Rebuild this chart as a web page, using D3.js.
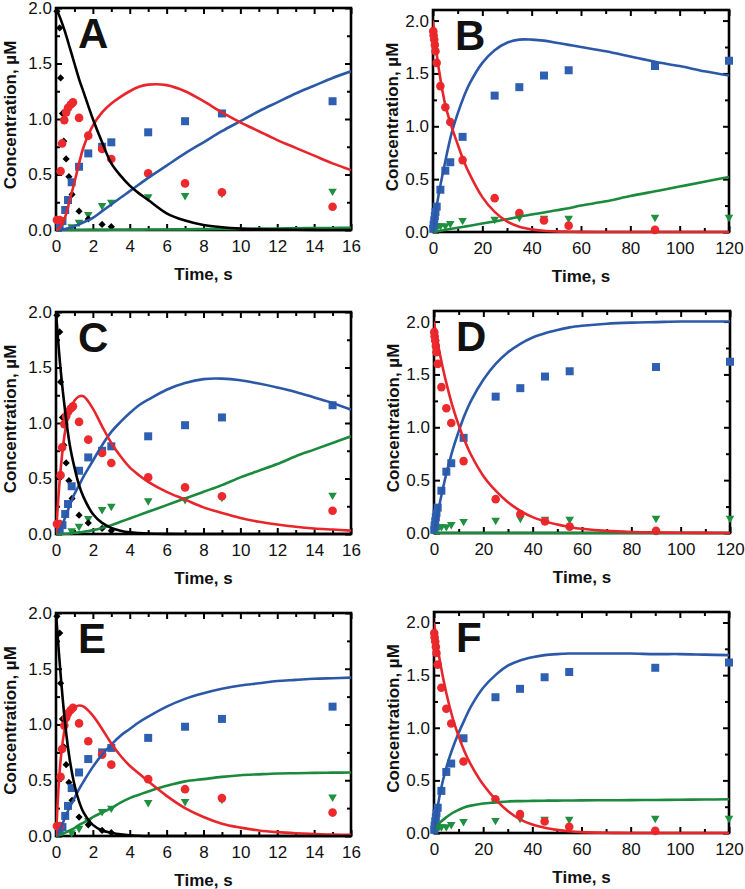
<!DOCTYPE html>
<html><head><meta charset="utf-8">
<script src="https://cdn.jsdelivr.net/npm/d3@7"></script>
<style>
body{margin:0;background:#fff}
svg{display:block}
text{font-family:"Liberation Sans",Arial,Helvetica,sans-serif;fill:#111}
</style>
</head><body>
<svg id="chart" width="745" height="889"></svg>
<script>
// ---------------- Experimental data, 0–16 s experiment (panels A, C, E) ----------------
const shortBlackT = [0.05,0.2,0.25,0.35,0.42,0.55,0.7,0.87,1.25,1.75,2.5,3];
const shortBlackC = [1.97,1.82,1.37,1.05,0.80,0.64,0.48,0.32,0.17,0.10,0.05,0.03];
const shortRedT   = [0.05,0.2,0.25,0.33,0.45,0.55,0.65,0.8,0.92,1.25,1.75,2.5,3,5,7,9,15];
const shortRedC   = [0.09,0.09,0.53,0.78,0.99,1.06,1.10,1.13,1.15,1.01,0.85,0.73,0.64,0.51,0.42,0.34,0.21];
const shortBlueT  = [0.2,0.35,0.5,0.65,0.85,1.25,1.75,2.5,3,5,7,9,15];
const shortBlueC  = [0.04,0.08,0.18,0.27,0.43,0.57,0.69,0.75,0.79,0.88,0.98,1.05,1.16];
const shortGreenT = [0.85,1.25,1.75,2.5,3,5,7,9,15];
const shortGreenC = [0.03,0.07,0.14,0.22,0.25,0.30,0.31,0.33,0.35];

// ---------------- Experimental data, 0–120 s experiment (panels B, D, F) ----------------
const longRedT   = [0.1,0.25,0.5,0.75,1,1.5,3,5,7,12,25,35,45,55,90];
const longRedC   = [1.90,1.86,1.82,1.77,1.71,1.60,1.38,1.18,1.04,0.68,0.32,0.18,0.11,0.06,0.02];
const longBlueT  = [0.1,0.25,0.5,0.75,1,1.5,3,5,7,12,25,35,45,55,90,120];
const longBlueC  = [0.03,0.07,0.11,0.15,0.19,0.24,0.40,0.58,0.66,0.90,1.29,1.37,1.48,1.53,1.57,1.62];
const longGreenT = [1,2,3,5,7,12,25,35,45,55,90,120];
const longGreenC = [0.05,0.06,0.06,0.06,0.08,0.11,0.12,0.14,0.13,0.13,0.14,0.14];

// ---------------- Simulated curves ----------------
const shortGrid = [0,0.25,0.5,0.75,1,1.25,1.5,2,2.5,3,3.5,4,4.5,5,6,7,8,9,10,11,12,13,14,15,16];
const A_black = [2.0,1.9,1.78,1.64,1.5,1.36,1.24,1.0,0.79,0.6,0.49,0.40,0.33,0.27,0.15,0.085,0.045,0.025,0.013,0.007,0.004,0.002,0.001,0,0];
const A_red   = [0,0.03,0.12,0.27,0.43,0.6,0.75,0.94,1.06,1.14,1.2,1.25,1.29,1.31,1.305,1.25,1.16,1.06,0.97,0.89,0.81,0.74,0.67,0.6,0.54];
const A_blue  = [0,0.002,0.008,0.02,0.035,0.05,0.07,0.11,0.17,0.23,0.29,0.35,0.41,0.47,0.58,0.69,0.79,0.89,0.98,1.07,1.15,1.23,1.3,1.37,1.43];
const A_green = [0,0,0,0,0,0,0,0.001,0.001,0.002,0.002,0.003,0.003,0.004,0.005,0.006,0.008,0.009,0.011,0.012,0.014,0.015,0.017,0.018,0.02];
const C_black = [2.0,1.48,1.1,0.8,0.6,0.44,0.33,0.18,0.1,0.055,0.03,0.015,0.008,0.004,0.001,0,0,0,0,0,0,0,0,0,0];
const C_red   = [0,0.58,0.93,1.11,1.2,1.24,1.24,1.13,0.97,0.82,0.7,0.6,0.53,0.47,0.38,0.31,0.24,0.19,0.145,0.11,0.085,0.065,0.05,0.04,0.03];
const C_blue  = [0,0.05,0.15,0.26,0.36,0.44,0.52,0.66,0.8,0.92,1.01,1.09,1.16,1.21,1.3,1.36,1.395,1.4,1.385,1.355,1.32,1.28,1.23,1.18,1.12];
const C_green = [0,0,0.002,0.005,0.01,0.015,0.02,0.035,0.055,0.08,0.11,0.14,0.17,0.2,0.26,0.32,0.38,0.44,0.51,0.57,0.63,0.7,0.76,0.82,0.88];
const E_black = [2.0,1.45,1.0,0.68,0.46,0.31,0.21,0.1,0.05,0.03,0.015,0.006,0.002,0,0,0,0,0,0,0,0,0,0,0,0];
const E_red   = [0,0.68,0.98,1.1,1.15,1.17,1.16,1.08,0.96,0.83,0.72,0.63,0.56,0.49,0.36,0.25,0.17,0.11,0.075,0.05,0.035,0.025,0.018,0.013,0.01];
const E_blue  = [0,0.07,0.17,0.26,0.34,0.42,0.49,0.62,0.73,0.82,0.9,0.96,1.02,1.07,1.16,1.23,1.28,1.32,1.35,1.37,1.39,1.4,1.41,1.415,1.42];
const E_green = [0,0.01,0.03,0.05,0.07,0.1,0.12,0.17,0.21,0.25,0.3,0.34,0.37,0.4,0.45,0.49,0.51,0.53,0.545,0.553,0.56,0.563,0.566,0.568,0.57];

const longGrid = [0,1,2.5,5,7.5,10,12.5,15,20,25,30,35,40,45,50,55,60,70,80,90,100,110,120];
const B_red   = [2.0,1.78,1.52,1.2,1.0,0.83,0.67,0.54,0.33,0.19,0.1,0.05,0.025,0.012,0.006,0.003,0.001,0,0,0,0,0,0];
const B_blue  = [0,0.17,0.38,0.67,0.93,1.12,1.28,1.41,1.6,1.72,1.79,1.82,1.82,1.81,1.79,1.77,1.75,1.71,1.66,1.61,1.57,1.52,1.48];
const B_green = [0,0.004,0.01,0.02,0.03,0.04,0.05,0.06,0.08,0.1,0.12,0.145,0.165,0.185,0.205,0.225,0.25,0.29,0.34,0.385,0.43,0.475,0.52];
const D_red   = [2.0,1.86,1.68,1.42,1.2,1.02,0.87,0.74,0.54,0.4,0.29,0.21,0.15,0.11,0.08,0.055,0.04,0.02,0.01,0.005,0.002,0.001,0];
const D_blue  = [0,0.12,0.3,0.56,0.78,0.96,1.12,1.25,1.45,1.6,1.71,1.79,1.85,1.89,1.92,1.945,1.96,1.98,1.99,1.995,2.0,2.0,2.0];
const D_green = [0,0,0,0,0,0,0,0,0,0,0,0,0,0,0,0,0,0,0,0,0,0,0];
const F_red   = [2.0,1.84,1.62,1.33,1.1,0.92,0.77,0.65,0.46,0.32,0.21,0.13,0.08,0.05,0.03,0.016,0.008,0.002,0,0,0,0,0];
const F_blue  = [0,0.17,0.38,0.62,0.8,0.95,1.08,1.2,1.38,1.5,1.59,1.64,1.67,1.69,1.7,1.705,1.705,1.705,1.705,1.7,1.7,1.695,1.69];
const F_green = [0,0.05,0.1,0.15,0.19,0.22,0.245,0.26,0.28,0.29,0.3,0.303,0.305,0.307,0.308,0.309,0.31,0.311,0.312,0.314,0.316,0.318,0.32];

// ---------------- Axis ticks ----------------
const yTickLabels = [0,0.5,1.0,1.5,2.0];
const yTickMinor  = [0.25,0.75,1.25,1.75];
const shortXLabels = [0,2,4,6,8,10,12,14,16];
const shortXMinor  = [1,3,5,7,9,11,13,15];
const longXLabels  = [0,20,40,60,80,100,120];
const longXMinor   = [10,30,50,70,90,110];
const panelLetters = ["A","B","C","D","E","F"];

// ---------------- Colours ----------------
const COL = {black:"#000000", red:"#e8252b", blue:"#2c58a8", green:"#1b8a3c",
             redPt:"#ec2a2e", bluePt:"#2e5fb0", greenPt:"#1f8f40", blackPt:"#000000"};

// ---------------- Layout ----------------
const layout = [
  {l:56,  t:8,   r:351, b:230, yMax:2.0, titleX:10},
  {l:433, t:10,  r:729, b:232, yMax:2.1, titleX:392},
  {l:56,  t:312, r:351, b:534, yMax:2.0, titleX:10},
  {l:434, t:311, r:730, b:533, yMax:2.1, titleX:393},
  {l:56,  t:613, r:351, b:836, yMax:2.0, titleX:10},
  {l:434, t:612, r:729, b:833, yMax:2.1, titleX:393}
];

const shortPts = {black:[shortBlackT,shortBlackC], red:[shortRedT,shortRedC], blue:[shortBlueT,shortBlueC], green:[shortGreenT,shortGreenC]};
const longPts  = {red:[longRedT,longRedC], blue:[longBlueT,longBlueC], green:[longGreenT,longGreenC]};

const panels = [
  {grid:shortGrid, xMax:16,  xl:shortXLabels, xm:shortXMinor, pts:shortPts, curves:{black:A_black, red:A_red, blue:A_blue, green:A_green}},
  {grid:longGrid,  xMax:120, xl:longXLabels,  xm:longXMinor,  pts:longPts,  curves:{red:B_red, blue:B_blue, green:B_green}},
  {grid:shortGrid, xMax:16,  xl:shortXLabels, xm:shortXMinor, pts:shortPts, curves:{black:C_black, red:C_red, blue:C_blue, green:C_green}},
  {grid:longGrid,  xMax:120, xl:longXLabels,  xm:longXMinor,  pts:longPts,  curves:{red:D_red, blue:D_blue, green:D_green}},
  {grid:shortGrid, xMax:16,  xl:shortXLabels, xm:shortXMinor, pts:shortPts, curves:{black:E_black, red:E_red, blue:E_blue, green:E_green}},
  {grid:longGrid,  xMax:120, xl:longXLabels,  xm:longXMinor,  pts:longPts,  curves:{red:F_red, blue:F_blue, green:F_green}}
];

const svg = d3.select("#chart");
const defs = svg.append("defs");
const FONT = '"Liberation Sans",Arial,Helvetica,sans-serif';

panels.forEach((p, i) => {
  const L = layout[i];
  const x = d3.scaleLinear().domain([0, p.xMax]).range([L.l, L.r]);
  const y = d3.scaleLinear().domain([0, L.yMax]).range([L.b, L.t]);
  const g = svg.append("g");

  defs.append("clipPath").attr("id","clip"+i)
    .append("rect").attr("x",L.l).attr("y",L.t-1).attr("width",L.r-L.l).attr("height",L.b-L.t+3);

  // axes: bottom (labelled + minor), top, left, right, all ticks inward
  const fmtY = d3.format(".1f");
  const axes = g.append("g");
  axes.append("g").attr("transform",`translate(0,${L.b})`)
    .call(d3.axisBottom(x).tickValues(p.xl).tickSize(-6).tickPadding(10).tickFormat(d3.format("d")));
  axes.append("g").attr("transform",`translate(0,${L.b})`)
    .call(d3.axisBottom(x).tickValues(p.xm).tickSize(-4).tickFormat(""));
  axes.append("g").attr("transform",`translate(0,${L.t})`)
    .call(d3.axisTop(x).tickValues(p.xl).tickSize(-6).tickFormat(""));
  axes.append("g").attr("transform",`translate(0,${L.t})`)
    .call(d3.axisTop(x).tickValues(p.xm).tickSize(-4).tickFormat(""));
  axes.append("g").attr("transform",`translate(${L.l},0)`)
    .call(d3.axisLeft(y).tickValues(yTickLabels).tickSize(-6).tickPadding(4).tickFormat(fmtY));
  axes.append("g").attr("transform",`translate(${L.l},0)`)
    .call(d3.axisLeft(y).tickValues(yTickMinor).tickSize(-4).tickFormat(""));
  axes.append("g").attr("transform",`translate(${L.r},0)`)
    .call(d3.axisRight(y).tickValues(yTickLabels).tickSize(-6).tickFormat(""));
  axes.append("g").attr("transform",`translate(${L.r},0)`)
    .call(d3.axisRight(y).tickValues(yTickMinor).tickSize(-4).tickFormat(""));
  axes.selectAll(".domain").remove();
  axes.selectAll(".tick line").attr("stroke","#000").attr("stroke-width",2);
  axes.selectAll(".tick text").attr("font-size",17).attr("fill","#111").attr("font-family",FONT);

  // frame
  g.append("rect").attr("x",L.l).attr("y",L.t).attr("width",L.r-L.l).attr("height",L.b-L.t)
    .attr("fill","none").attr("stroke","#000").attr("stroke-width",2.6);

  // markers
  const sym = {
    blue: d3.symbol(d3.symbolSquare, 64),
    red: d3.symbol(d3.symbolCircle, 58),
    green: d3.symbol(d3.symbolTriangle, 32),
    black: d3.symbol(d3.symbolSquare, 26)
  };
  const ptsG = g.append("g");
  ["green","black","blue","red"].forEach(k => {
    if (!p.pts[k]) return;
    const [T, C] = p.pts[k];
    const rot = k === "green" ? 180 : (k === "black" ? 45 : 0);
    ptsG.selectAll(null).data(T.map((t,j)=>({t, c:C[j]}))).enter().append("path")
      .attr("d", sym[k])
      .attr("transform", d => `translate(${x(d.t)},${y(d.c)}) rotate(${rot})`)
      .attr("fill", COL[k+"Pt"]);
  });

  // curves (drawn above the frame, as in the original)
  const line = d3.line().x(d=>x(d[0])).y(d=>y(Math.max(0,d[1]))).curve(d3.curveCatmullRom.alpha(0.5));
  const curveG = g.append("g").attr("clip-path", `url(#clip${i})`);
  ["green","blue","red","black"].forEach(k => {
    const vals = p.curves[k];
    if (!vals) return;
    curveG.append("path").datum(p.grid.map((t,j)=>[t, vals[j]]))
      .attr("d", line).attr("fill","none").attr("stroke", COL[k])
      .attr("stroke-width", 2.6).attr("stroke-linejoin","round");
  });

  // panel letter
  g.append("text").attr("x", L.l+22).attr("y", L.t+40)
    .attr("font-size",42).attr("font-weight","bold").attr("fill","#000").text(panelLetters[i]);

  // axis titles
  g.append("text").attr("x",(L.l+L.r)/2).attr("y",L.b+50).attr("text-anchor","middle")
    .attr("font-size",17).attr("font-weight","bold").text("Time, s");
  g.append("text").attr("transform",`translate(${L.titleX+6},${(L.t+L.b)/2-4}) rotate(-90)`)
    .attr("text-anchor","middle").attr("font-size",17).attr("font-weight","bold")
    .text("Concentration, \u00b5M");
});
</script>
</body></html>
